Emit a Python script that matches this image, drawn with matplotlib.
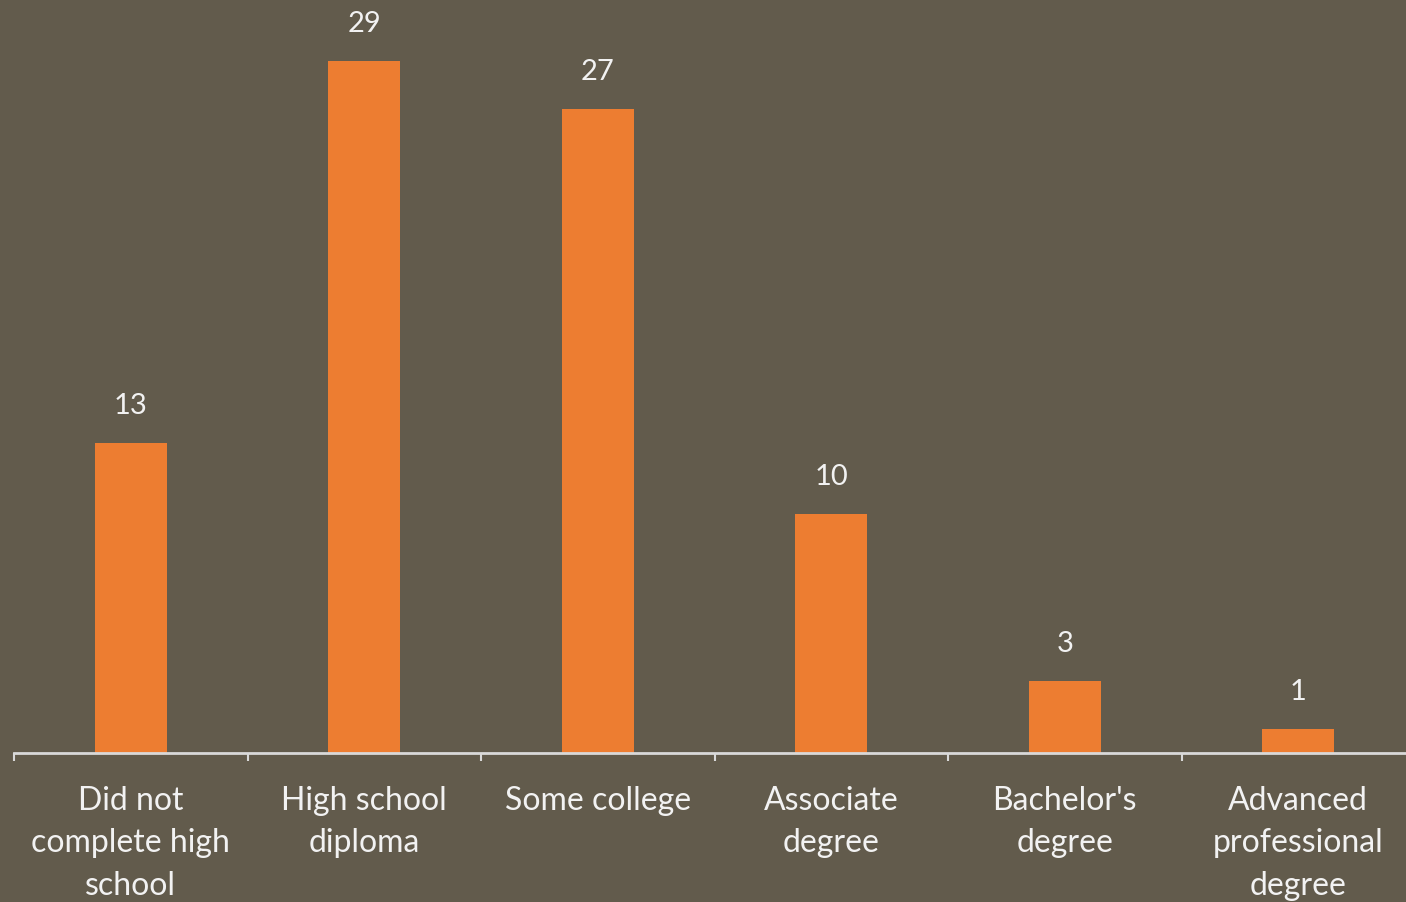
import matplotlib
matplotlib.use("Agg")
import matplotlib.pyplot as plt
import numpy as np

# Education level counts
categories = [
    "Did not\ncomplete high\nschool",
    "High school\ndiploma",
    "Some college",
    "Associate\ndegree",
    "Bachelor's\ndegree",
    "Advanced\nprofessional\ndegree",
]
counts = [13, 29, 27, 10, 3, 1]

bg = "#625B4C"
bar_color = "#ED7D31"
text_color = "#F2F2F2"
axis_color = "#D9D9D9"

plt.rcParams["font.family"] = ["Lato", "DejaVu Sans"]

fig = plt.figure(figsize=(14.06, 9.03), dpi=100, facecolor=bg)
# plot area runs slightly past the right edge of the figure
ax = fig.add_axes([14 / 1406, 149 / 903, 1401 / 1406, 754 / 903])
ax.set_facecolor(bg)

x = np.arange(len(categories))
bars = ax.bar(x, counts, width=0.31, color=bar_color, zorder=2)

# value labels above bars
for b, v in zip(bars, counts):
    ax.annotate(str(v), (b.get_x() + b.get_width() / 2, b.get_height()),
                xytext=(0, 18), textcoords="offset points",
                ha="center", va="bottom", fontsize=21, color=text_color)

ax.set_xlim(-0.5, len(categories) - 0.5)
ax.set_ylim(0, 754 / 23.86)

for s in ["top", "left", "right"]:
    ax.spines[s].set_visible(False)
ax.spines["bottom"].set_color(axis_color)
ax.spines["bottom"].set_linewidth(2)

ax.set_yticks([])
ax.set_xticks(x)
ax.set_xticklabels(categories, fontsize=23, color=text_color, linespacing=1.52)
ax.tick_params(axis="x", which="major", length=0, pad=23)
ax.set_xticks(np.arange(-0.5, len(categories), 1.0), minor=True)
ax.tick_params(axis="x", which="minor", length=6, width=1.5, color=axis_color)

fig.savefig("out.png", dpi=100, facecolor=bg)
